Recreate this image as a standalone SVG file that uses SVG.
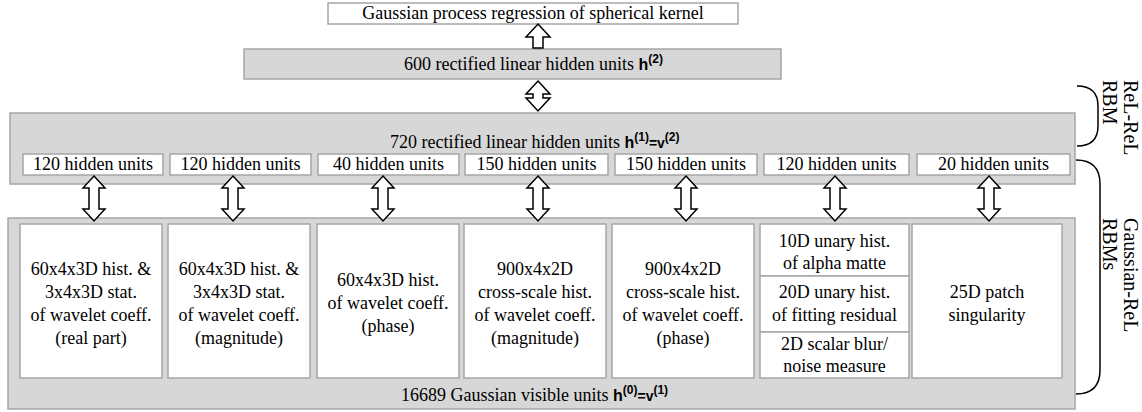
<svg xmlns="http://www.w3.org/2000/svg" width="1142" height="412" viewBox="0 0 1142 412">
<defs>
<style>
.wbox{fill:#ffffff;stroke:#a6a6a6;stroke-width:1.5}
.gbox{fill:#d7d7d7;stroke:#a6a6a6;stroke-width:1.5}
.t{font-family:"Liberation Serif","Times New Roman",serif;font-size:18px;fill:#000;text-anchor:middle}
.s{text-anchor:start}
.side{font-family:"Liberation Serif","Times New Roman",serif;font-size:20px;fill:#000}
.b{font-family:"Liberation Sans",Arial,sans-serif;font-weight:bold}
.arr{fill:#ffffff;stroke:#000;stroke-width:1.5;stroke-linejoin:miter}
.brace{fill:none;stroke:#000;stroke-width:1.5}
</style>
</defs>
<g id="top-gp">
<rect class="wbox" x="328" y="3" width="410" height="21"/>
<text class="t" x="533" y="19">Gaussian process regression of spherical kernel</text>
</g>
<g id="layer-h2">
<rect class="gbox" x="244" y="49" width="537" height="30"/>
<text class="t s" x="404" y="70">600 rectified linear hidden units <tspan class="b" font-size="16">h</tspan><tspan class="b" font-size="12" dy="-7">(2)</tspan></text>
</g>
<g id="layer-h1">
<rect class="gbox" x="10" y="113" width="1065" height="71"/>
<text class="t s" x="390" y="148">720 rectified linear hidden units <tspan class="b" font-size="16">h</tspan><tspan class="b" font-size="12" dy="-7">(1)</tspan><tspan class="b" font-size="14" dy="7">=v</tspan><tspan class="b" font-size="12" dy="-7">(2)</tspan></text>
</g>
<g id="hid1"><rect class="wbox" x="23" y="154" width="140" height="21"/><text class="t" x="93" y="170">120 hidden units</text></g>
<g id="hid2"><rect class="wbox" x="170" y="154" width="141" height="21"/><text class="t" x="240.5" y="170">120 hidden units</text></g>
<g id="hid3"><rect class="wbox" x="318" y="154" width="141" height="21"/><text class="t" x="388.5" y="170">40 hidden units</text></g>
<g id="hid4"><rect class="wbox" x="465" y="154" width="143" height="21"/><text class="t" x="536.5" y="170">150 hidden units</text></g>
<g id="hid5"><rect class="wbox" x="615" y="154" width="142" height="21"/><text class="t" x="686" y="170">150 hidden units</text></g>
<g id="hid6"><rect class="wbox" x="764" y="154" width="145" height="21"/><text class="t" x="836.5" y="170">120 hidden units</text></g>
<g id="hid7"><rect class="wbox" x="917" y="154" width="153" height="21"/><text class="t" x="993.5" y="170">20 hidden units</text></g>
<g id="layer-v">
<rect class="gbox" x="8" y="218" width="1067" height="191"/>
<text class="t s" x="401" y="401">16689 Gaussian visible units <tspan class="b" font-size="16">h</tspan><tspan class="b" font-size="12" dy="-7">(0)</tspan><tspan class="b" font-size="14" dy="7">=v</tspan><tspan class="b" font-size="12" dy="-7">(1)</tspan></text>
</g>
<g id="feat1"><rect class="wbox" x="20" y="224" width="142" height="154"/>
<text class="t" x="91" y="275">60x4x3D hist. &amp;</text><text class="t" x="91" y="298">3x4x3D stat.</text><text class="t" x="91" y="321">of wavelet coeff.</text><text class="t" x="91" y="344">(real part)</text></g>
<g id="feat2"><rect class="wbox" x="168" y="224" width="142" height="154"/>
<text class="t" x="239" y="275">60x4x3D hist. &amp;</text><text class="t" x="239" y="298">3x4x3D stat.</text><text class="t" x="239" y="321">of wavelet coeff.</text><text class="t" x="239" y="344">(magnitude)</text></g>
<g id="feat3"><rect class="wbox" x="317" y="224" width="142" height="154"/>
<text class="t" x="388" y="286">60x4x3D hist.</text><text class="t" x="388" y="309">of wavelet coeff.</text><text class="t" x="388" y="332">(phase)</text></g>
<g id="feat4"><rect class="wbox" x="464" y="224" width="142" height="154"/>
<text class="t" x="535" y="275">900x4x2D</text><text class="t" x="535" y="298">cross-scale hist.</text><text class="t" x="535" y="321">of wavelet coeff.</text><text class="t" x="535" y="344">(magnitude)</text></g>
<g id="feat5"><rect class="wbox" x="612" y="224" width="142" height="154"/>
<text class="t" x="683" y="275">900x4x2D</text><text class="t" x="683" y="298">cross-scale hist.</text><text class="t" x="683" y="321">of wavelet coeff.</text><text class="t" x="683" y="344">(phase)</text></g>
<g id="feat6a"><rect class="wbox" x="760" y="224" width="149" height="52"/>
<text class="t" x="834.5" y="247">10D unary hist.</text><text class="t" x="834.5" y="269">of alpha matte</text></g>
<g id="feat6b"><rect class="wbox" x="760" y="276" width="149" height="56"/>
<text class="t" x="834.5" y="298">20D unary hist.</text><text class="t" x="834.5" y="321">of fitting residual</text></g>
<g id="feat6c"><rect class="wbox" x="760" y="332" width="149" height="46"/>
<text class="t" x="834.5" y="350">2D scalar blur/</text><text class="t" x="834.5" y="372">noise measure</text></g>
<g id="feat7"><rect class="wbox" x="912" y="224" width="150" height="154"/>
<text class="t" x="987" y="298">25D patch</text><text class="t" x="987" y="321">singularity</text></g>
<g id="brace-relrel">
<path class="brace" d="M1077,86 Q1098,86 1098,106 L1098,126 Q1098,146 1077,146"/>
<text class="side" transform="translate(1124,80) rotate(90)">ReL-ReL</text>
<text class="side" transform="translate(1103,80) rotate(90)">RBM</text>
</g>
<g id="brace-gauss">
<path class="brace" d="M1076,160 Q1100,160 1100,184 L1100,370 Q1100,394 1076,394"/>
<text class="side" transform="translate(1124,218) rotate(90)">Gaussian-ReL</text>
<text class="side" transform="translate(1103,218) rotate(90)">RBMs</text>
</g>
<g id="connectors">
<path class="arr" d="M538,24 L550,37 L543,37 L543,48 L533,48 L533,37 L526,37 Z"/>
<path class="arr" d="M538,81 L550,94 L543,94 L543,98 L550,98 L538,111 L526,98 L533,98 L533,94 L526,94 Z"/>
<path class="arr" d="M94,176 L105,188 L99,188 L99,209 L105,209 L94,221 L83,209 L89,209 L89,188 L83,188 Z"/>
<path class="arr" d="M233,176 L244,188 L238,188 L238,209 L244,209 L233,221 L222,209 L228,209 L228,188 L222,188 Z"/>
<path class="arr" d="M383,176 L394,188 L388,188 L388,209 L394,209 L383,221 L372,209 L378,209 L378,188 L372,188 Z"/>
<path class="arr" d="M538,176 L549,188 L543,188 L543,209 L549,209 L538,221 L527,209 L533,209 L533,188 L527,188 Z"/>
<path class="arr" d="M686,176 L697,188 L691,188 L691,209 L697,209 L686,221 L675,209 L681,209 L681,188 L675,188 Z"/>
<path class="arr" d="M835,176 L846,188 L840,188 L840,209 L846,209 L835,221 L824,209 L830,209 L830,188 L824,188 Z"/>
<path class="arr" d="M989,176 L1000,188 L994,188 L994,209 L1000,209 L989,221 L978,209 L984,209 L984,188 L978,188 Z"/>
</g>
</svg>
